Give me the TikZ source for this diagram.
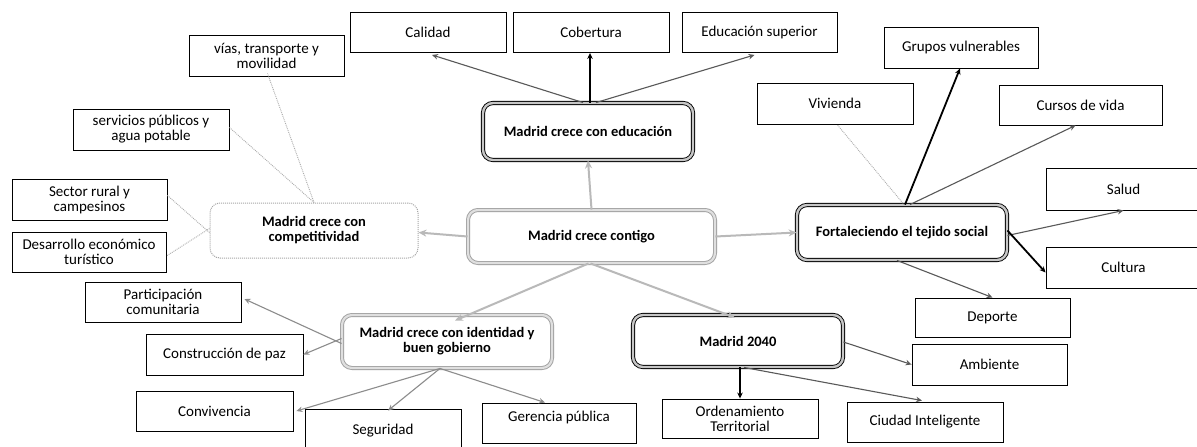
\documentclass[tikz,border=0pt]{standalone}
\usepackage{fontspec}
\setmainfont{Carlito}
\usetikzlibrary{arrows.meta,calc}
\begin{document}
\begin{tikzpicture}[x=1pt,y=-1pt,
  leaf/.style={draw=black,line width=0.9pt,rectangle,align=center,inner sep=2pt,
    minimum height=40pt,font=\fontsize{15}{15}\selectfont},
  hub/.style={rectangle,rounded corners=10pt,align=center,inner sep=3pt,
    font=\bfseries\fontsize{14.5}{15}\selectfont},
  darkhub/.style={hub,draw=black,line width=0.9pt,double=gray!45,double distance=2.4pt},
  grayhub/.style={hub,draw=gray!75,line width=0.9pt,double=gray!25,double distance=2.2pt},
  dothub/.style={hub,draw=gray!70,line width=1pt,densely dotted},
  conn/.style={draw=black!65,line width=1.1pt,-{Stealth[open,length=6pt,width=5.5pt]}},
  connl/.style={draw=black!45,line width=1.1pt,-{Stealth[open,length=6pt,width=5.5pt]}},
  bold/.style={draw=black,line width=1.8pt,-{Stealth[open,length=6pt,width=5.5pt]}},
  hatch/.style={draw=gray!55,line width=2pt,-{Stealth[open,length=8pt,width=7pt]}},
  dots/.style={draw=gray!65,line width=0.9pt,densely dotted},
]
\useasboundingbox (0,0) rectangle (1197,447);
\fill[white] (0,0) rectangle (1197,447);

% hubs
\node[darkhub,minimum width=210pt,minimum height=57pt] (edu) at (588,131.5) {Madrid crece con educación};
\node[grayhub,minimum width=247pt,minimum height=53pt] (cont) at (591.5,236.5) {Madrid crece contigo};
\node[dothub,minimum width=208pt,minimum height=55pt] (comp) at (314,230.5) {Madrid crece con\\competitividad};
\node[grayhub,minimum width=210pt,minimum height=53pt] (iden) at (447,341.5) {Madrid crece con identidad y\\buen gobierno};
\node[darkhub,minimum width=210pt,minimum height=52pt] (m40) at (738,341) {Madrid 2040};
\node[darkhub,minimum width=210pt,minimum height=55pt] (fort) at (902,232.5) {Fortaleciendo el tejido social};

% leaves
\node[leaf,minimum width=156pt] (cal) at (428,32.5) {Calidad};
\node[leaf,minimum width=156pt] (cob) at (591,32.5) {Cobertura};
\node[leaf,minimum width=155pt] (eds) at (759.5,32.5) {Educación superior};
\node[leaf,minimum width=155pt,minimum height=41pt] (vias) at (266.5,55.5) {vías, transporte y\\movilidad};
\node[leaf,minimum width=156pt,minimum height=41pt] (serv) at (151,129.5) {servicios públicos y\\agua potable};
\node[leaf,minimum width=155pt,minimum height=41pt] (rur) at (89.5,199.5) {Sector rural y\\campesinos};
\node[leaf,minimum width=154pt] (des) at (89,252) {Desarrollo económico\\turístico};
\node[leaf,minimum width=156pt] (par) at (163,302) {Participación\\comunitaria};
\node[leaf,minimum width=157pt,minimum height=41pt] (paz) at (224.5,354.5) {Construcción de paz};
\node[leaf,minimum width=157pt] (conv) at (214.5,411) {Convivencia};
\node[leaf,minimum width=156pt,minimum height=44pt] (seg) at (383,431) {Seguridad};
\node[leaf,minimum width=154pt,minimum height=40pt,text depth=14pt] (ger) at (559,423) {Gerencia pública};
\node[leaf,minimum width=156pt,minimum height=39pt] (ord) at (740,418.5) {Ordenamiento\\Territorial};
\node[leaf,minimum width=156pt] (ciu) at (925,422) {Ciudad Inteligente};
\node[leaf,minimum width=155pt,minimum height=41pt] (amb) at (989.5,364.5) {Ambiente};
\node[leaf,minimum width=155pt,minimum height=39pt] (dep) at (992.5,317.5) {Deporte};
\node[leaf,minimum width=155pt,minimum height=41pt] (cul) at (1123.5,267.5) {Cultura};
\node[leaf,minimum width=155pt,minimum height=42pt] (sal) at (1123.5,189) {Salud};
\node[leaf,minimum width=163pt] (cur) at (1080.5,105) {Cursos de vida};
\node[leaf,minimum width=156pt,minimum height=41pt] (viv) at (835,103.5) {Vivienda};
\node[leaf,minimum width=154pt,minimum height=41pt] (gru) at (961,47.5) {Grupos vulnerables};

% education
\draw[conn] ([xshift=-5pt]edu.north) -- ([xshift=4pt,yshift=-2pt]cal.south);
\draw[bold] ([xshift=2pt]edu.north) -- ([xshift=-1pt]cob.south);
\draw[conn] ([xshift=8pt]edu.north) -- ([xshift=-5pt,yshift=-2pt]eds.south);

% contigo
\draw[hatch] (cont.north) -- (edu.south);
\draw[hatch] (cont.west) -- ([yshift=-2pt]comp.east);
\draw[hatch] (cont.east) -- (fort.west);
\draw[hatch] ([xshift=-3pt]cont.south) -- ([xshift=8pt,yshift=-6pt]iden.north);
\draw[hatch] ([xshift=-1pt]cont.south) -- ([xshift=-3pt,yshift=-3pt]m40.north);

% competitividad
\draw[dots] (comp.north) -- ([xshift=1pt,yshift=3pt]vias.south);
\draw[dots] (comp.north) -- ([yshift=2pt]serv.east);
\draw[dots] ([yshift=-2pt]comp.west) -- ([yshift=4pt]rur.east);
\draw[dots] ([yshift=2pt]comp.west) -- ([yshift=-4pt]des.east);

% identidad
\draw[connl] ([yshift=-2pt]iden.west) -- ([xshift=3pt,yshift=3pt]par.east);
\draw[connl] ([yshift=3pt]iden.west) -- (paz.east);
\draw[connl] ([xshift=-7pt]iden.south) -- ([xshift=3pt]conv.east);
\draw[connl] ([xshift=-7pt]iden.south) -- ([xshift=5pt,yshift=-2pt]seg.north);
\draw[connl] ([xshift=-7pt]iden.south) -- ([xshift=-14pt,yshift=0pt]ger.north);

% Madrid 2040
\draw[bold] ([xshift=2pt]m40.south) -- (ord.north);
\draw[conn] ([xshift=6pt]m40.south) -- ([xshift=-3pt,yshift=1pt]ciu.north);
\draw[conn] ([yshift=-1pt]m40.east) -- ([yshift=0pt]amb.west);

% fortaleciendo
\draw[dots] ([xshift=2pt]fort.north) -- ([xshift=2pt]viv.south);
\draw[bold] ([xshift=3pt]fort.north) -- ([xshift=-1pt]gru.south);
\draw[conn] ([xshift=8pt]fort.north) -- ([xshift=-5pt]cur.south);
\draw[conn] ([yshift=-3pt]fort.east) -- ([xshift=0pt]sal.south);
\draw[bold] ([yshift=2pt]fort.east) -- ([yshift=-5pt]cul.west);
\draw[conn] ([xshift=-5pt]fort.south) -- ([xshift=0pt]dep.north);
\end{tikzpicture}
\end{document}
